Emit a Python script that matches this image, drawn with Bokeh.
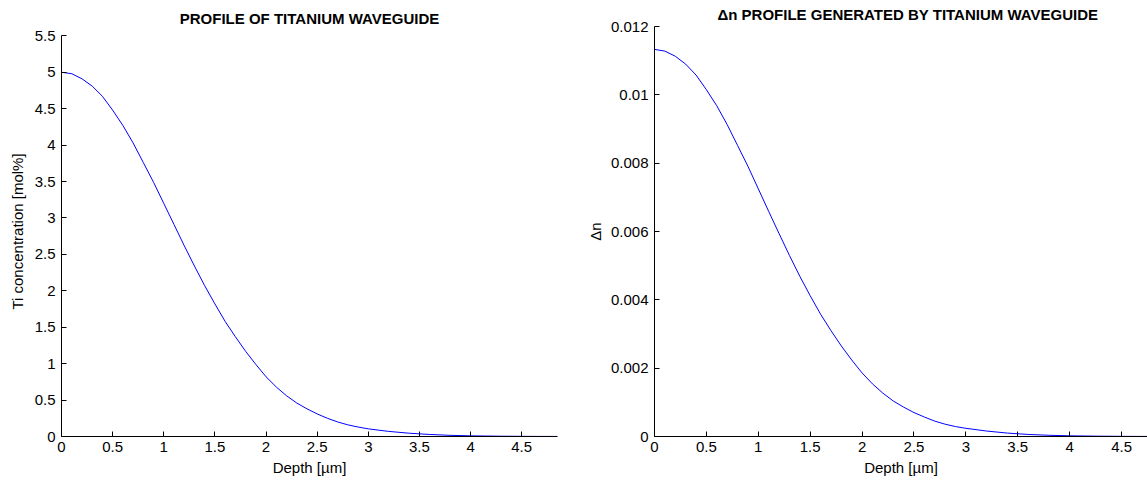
from bokeh.plotting import figure
from bokeh.layouts import row
from bokeh.models import FixedTicker, CustomJSTickFormatter, Range1d
from bokeh.embed import file_html
from bokeh.resources import INLINE

# ---- data ----
depth = [0.0, 0.1, 0.2, 0.3, 0.4, 0.5, 0.6, 0.7, 0.8, 0.9, 1.0, 1.1, 1.2, 1.3,
         1.4, 1.5, 1.6, 1.7, 1.8, 1.9, 2.0, 2.1, 2.2, 2.3, 2.4, 2.5, 2.6, 2.7,
         2.8, 2.9, 3.0, 3.2, 3.4, 3.6, 3.8, 4.0, 4.3, 4.6, 4.85]
ti_conc = [5.00, 4.98, 4.91, 4.81, 4.67, 4.48, 4.27, 4.03, 3.76, 3.49, 3.20, 2.91,
           2.62, 2.34, 2.07, 1.82, 1.58, 1.37, 1.17, 0.99, 0.82, 0.68, 0.56, 0.46,
           0.38, 0.31, 0.25, 0.20, 0.16, 0.13, 0.105, 0.07, 0.045, 0.028, 0.016,
           0.009, 0.004, 0.0015, 0.0005]
delta_n = [0.01133, 0.01128, 0.01113, 0.01090, 0.01058, 0.01015, 0.00968, 0.00913,
           0.00852, 0.00791, 0.00725, 0.00659, 0.00594, 0.00530, 0.00469, 0.00412,
           0.00358, 0.00310, 0.00265, 0.00224, 0.00186, 0.00154, 0.00127, 0.00104,
           0.00086, 0.00070, 0.00057, 0.00045, 0.00036, 0.00029, 0.00024, 0.00016,
           0.00010, 0.00006, 0.000036, 0.00002, 0.000009, 0.000003, 0.000001]

x_ticks = [0, 0.5, 1, 1.5, 2, 2.5, 3, 3.5, 4, 4.5]
ti_ticks = [0, 0.5, 1, 1.5, 2, 2.5, 3, 3.5, 4, 4.5, 5, 5.5]
dn_ticks = [0, 0.002, 0.004, 0.006, 0.008, 0.01, 0.012]
ti_axis_max = 5.5

title_left = "PROFILE OF TITANIUM WAVEGUIDE"
title_right = "\u0394n PROFILE GENERATED BY TITANIUM WAVEGUIDE"
x_label = "Depth [\u00b5m]"
y_label_left = "Ti concentration [mol%]"
y_label_right = "\u0394n"

FONT = "Liberation Sans"
fmt = CustomJSTickFormatter(code="return (Math.round(tick*100000)/100000).toString();")


def style(p, xt, yt):
    p.outline_line_color = None
    p.grid.visible = False
    p.background_fill_color = "white"
    p.border_fill_color = "white"
    p.xaxis.ticker = FixedTicker(ticks=xt)
    p.yaxis.ticker = FixedTicker(ticks=yt)
    for ax in p.axis:
        ax.formatter = fmt
        ax.major_tick_in = 5
        ax.major_tick_out = 0
        ax.minor_tick_line_color = None
        ax.axis_line_color = "black"
        ax.axis_line_width = 1
        ax.major_tick_line_color = "black"
        ax.major_label_text_font = FONT
        ax.major_label_text_font_size = "15px"
        ax.major_label_text_color = "black"
        ax.axis_label_text_font = FONT
        ax.axis_label_text_font_size = "15px"
        ax.axis_label_text_font_style = "normal"
        ax.axis_label_text_color = "black"
    p.xaxis.major_label_standoff = 5
    p.xaxis.axis_label_standoff = 4
    p.yaxis.major_label_standoff = 6
    p.title.text_font = FONT
    p.title.text_font_size = "15px"
    p.title.text_font_style = "bold"
    p.title.text_color = "black"


# left: frame extends a little above 5.5, axis line bounded at 5.5
p1 = figure(width=567, height=484, x_range=Range1d(0, 4.85), y_range=Range1d(0, 5.628),
            output_backend="svg", toolbar_location=None,
            min_border_left=61, min_border_right=10, min_border_top=26, min_border_bottom=48,
            title=title_left)
style(p1, x_ticks, ti_ticks)
p1.yaxis.bounds = (0, ti_axis_max)
p1.title.align = "center"
p1.title.standoff = 0
p1.xaxis.axis_label = x_label
p1.yaxis.axis_label = y_label_left
p1.yaxis.axis_label_standoff = 6
p1.line(depth, ti_conc, line_color="#0000ff", line_width=1)

p2 = figure(width=580, height=484, x_range=Range1d(0, 4.75), y_range=Range1d(0, 0.012),
            output_backend="svg", toolbar_location=None,
            min_border_left=87, min_border_right=0, min_border_top=26, min_border_bottom=48,
            title=title_right)
style(p2, x_ticks, dn_ticks)
p2.title.align = "left"
p2.title.offset = 63
p2.title.standoff = 7
p2.xaxis.axis_label = x_label
p2.yaxis.axis_label = y_label_right
p2.yaxis.axis_label_standoff = 4
p2.line(depth, delta_n, line_color="#0000ff", line_width=1)

layout = row(p1, p2)
open("out.html", "w").write(file_html(layout, INLINE))
